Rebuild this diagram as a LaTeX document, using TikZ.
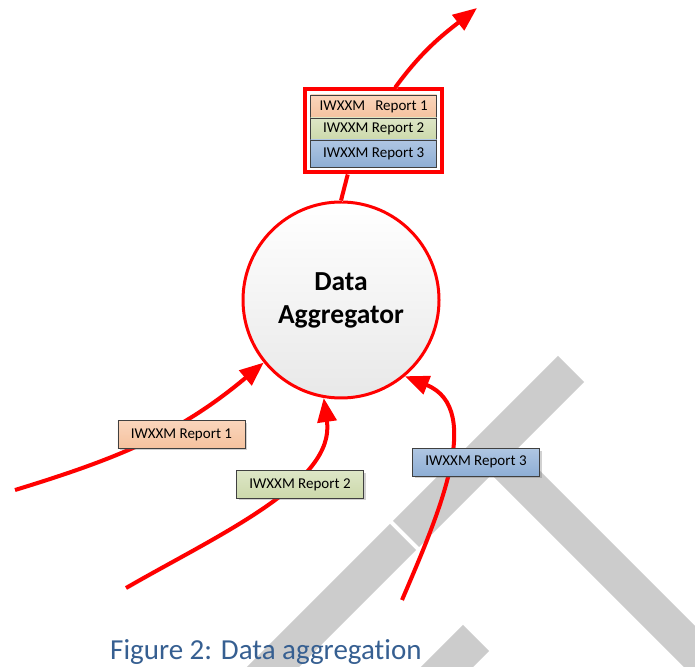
\documentclass[tikz,border=0pt]{standalone}
\usepackage{fontspec}
\setmainfont{Carlito}[Ligatures=NoCommon]
\usepackage{tikz}
\usetikzlibrary{arrows.meta,positioning,fit,shadows,backgrounds}

\definecolor{flowred}{HTML}{FF0000}
\definecolor{capblue}{HTML}{365F91}
\definecolor{wmgray}{HTML}{CCCCCC}
\definecolor{edgegray}{HTML}{404040}
\definecolor{orangetop}{HTML}{FAD5BB}
\definecolor{orangebot}{HTML}{F5C29F}
\definecolor{greentop}{HTML}{DDE6C6}
\definecolor{greenbot}{HTML}{CCD9AB}
\definecolor{bluetop}{HTML}{AFC6E2}
\definecolor{bluebot}{HTML}{8EAED5}

\begin{document}
\begin{tikzpicture}[x=1pt, y=1pt,
    flow/.style={draw=flowred, line width=4pt, -{Triangle[length=24pt,width=19pt]},
        preaction={draw=black!12, -, shorten >=22pt, transform canvas={shift={(1.5pt,-1.5pt)}}}},
    wmark/.style={draw=wmgray, line width=37pt, line cap=butt},
    report/.style={draw=edgegray, line width=0.8pt, minimum width=127pt, minimum height=27.5pt,
        inner sep=0pt, font=\fontsize{15}{18}\selectfont,
        drop shadow={shadow xshift=2pt, shadow yshift=-2pt, opacity=0.3, fill=black!60}},
    row/.style={draw=edgegray, line width=0.8pt, minimum width=126pt, inner sep=0pt, outer sep=0pt,
        font=\fontsize{15}{18}\selectfont},
    orangebox/.style={top color=orangetop, bottom color=orangebot},
    greenbox/.style={top color=greentop, bottom color=greenbot},
    bluebox/.style={top color=bluetop, bottom color=bluebot}]
    \useasboundingbox (0,0) rectangle (695,666);

    % watermark
    \begin{scope}
        \clip (0,0) rectangle (695,666);
        \draw[wmark] (571,297) -- (406,132);
        \draw[wmark] (403,129) -- (250,-24);
        \draw[wmark] (491.5,217.5) -- (730,-21);
        \draw[wmark] (476,28) -- (430,-18);
    \end{scope}

    \node[circle, draw=flowred, line width=3pt, minimum size=196pt, inner sep=0pt,
          top color=white, bottom color=black!9, align=center,
          font=\bfseries\fontsize{27.5}{33}\selectfont] (agg) at (341,366) {Data\\Aggregator};

    % outgoing stack
    \node[row, orangebox, minimum height=23pt, anchor=north] (rep_1) at (373.7,571) {IWXXM\ \ \ Report 1};
    \node[row, greenbox, minimum height=22pt, below=0pt of rep_1] (rep_2) {IWXXM Report 2};
    \node[row, bluebox, minimum height=27pt, below=0pt of rep_2] (rep_3) {IWXXM Report 3};
    \begin{scope}[on background layer]
        \node[draw=flowred, line width=4pt, fill=white, inner sep=5.5pt, fit=(rep_1)(rep_2)(rep_3),
              drop shadow={shadow xshift=2pt, shadow yshift=-2pt, opacity=0.3, fill=black!60}] (stack) {};
    \end{scope}

    \coordinate (src_1) at (15,176);
    \coordinate (src_2) at (126,78);
    \coordinate (src_3) at (402,66);
    \coordinate (sink) at (477,658);

    \draw[flow] (src_1) to[out=17, in=220] (agg.219);
    \draw[flow] (src_2) to[out=30, in=278, in looseness=0.8] (agg.260);
    \draw[flow] (src_3) to[out=67, in=338] (agg.310);
    \draw[flow, -] (agg.north) -- ([xshift=-26pt]stack.south);
    \draw[flow] ([xshift=21.5pt]stack.north) to[out=54, in=218] (sink);

    % incoming reports
    \node[report, orangebox] (lab_1) at (181.4,231.5) {IWXXM Report 1};
    \node[report, greenbox] (lab_2) at (300,181.5) {IWXXM Report 2};
    \node[report, bluebox] (lab_3) at (476,203.7) {IWXXM Report 3};

    \node[anchor=base west, inner sep=0pt, text=capblue, font=\fontsize{29}{34}\selectfont] (cap) at (110,6.5) {Figure 2: Data aggregation};
\end{tikzpicture}
\end{document}
